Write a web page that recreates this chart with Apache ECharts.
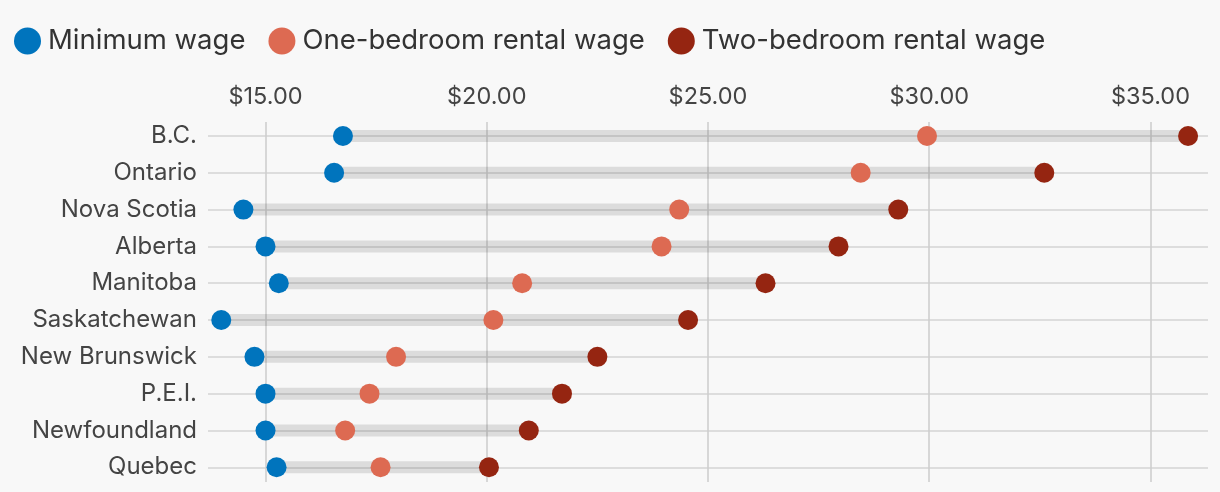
<!DOCTYPE html>
<html>
<head>
<meta charset="utf-8">
<script src="https://cdn.jsdelivr.net/npm/echarts@6/dist/echarts.min.js"></script>
<style>
  html, body { margin: 0; padding: 0; background: #f8f8f8; }
  #chart { width: 1220px; height: 492px; }
</style>
</head>
<body>
<div id="chart"></div>
<script>
// provinces, top to bottom
var provinces = ['B.C.', 'Ontario', 'Nova Scotia', 'Alberta', 'Manitoba', 'Saskatchewan', 'New Brunswick', 'P.E.I.', 'Newfoundland', 'Quebec'];
var minWage = [16.75, 16.55, 14.50, 15.00, 15.30, 14.00, 14.75, 15.00, 15.00, 15.25];
var oneBedWage = [29.95, 28.45, 24.35, 23.95, 20.80, 20.15, 17.95, 17.35, 16.80, 17.60];
var twoBedWage = [35.85, 32.60, 29.30, 27.95, 26.30, 24.55, 22.50, 21.70, 20.95, 20.05];
var xTicks = [15, 20, 25, 30, 35];

var font = 'Inter';
var rowIdx = [];
for (var i = 0; i < provinces.length; i++) {
  rowIdx.push(i);
}

function points(arr) {
  var out = [];
  for (var i = 0; i < arr.length; i++) {
    out.push([arr[i], i]);
  }
  return out;
}

// grey band from lowest to highest value of each row
var bandData = [];
for (var j = 0; j < provinces.length; j++) {
  var lo = Math.min(minWage[j], oneBedWage[j], twoBedWage[j]);
  var hi = Math.max(minWage[j], oneBedWage[j], twoBedWage[j]);
  bandData.push([lo, hi, j]);
}

var myChart = echarts.init(document.getElementById('chart'));
var option = {
  backgroundColor: '#f8f8f8',
  animation: false,
  textStyle: { fontFamily: font },
  legend: {
    left: 9,
    top: 22,
    itemWidth: 27,
    itemHeight: 27,
    itemGap: 23,
    icon: 'circle',
    data: ['Minimum wage', 'One-bedroom rental wage', 'Two-bedroom rental wage'],
    textStyle: { fontFamily: font, fontSize: 27.5, color: '#333', padding: [0, 0, 0, 2] }
  },
  grid: {
    left: 208,
    right: 12,
    top: 122,
    bottom: 10
  },
  xAxis: {
    type: 'value',
    position: 'top',
    min: 13.7,
    max: 36.3,
    axisLine: { show: false },
    axisTick: { show: false, customValues: xTicks },
    axisLabel: {
      customValues: xTicks,
      fontFamily: font,
      fontSize: 23.5,
      color: '#444',
      margin: 13,
      formatter: function (v) { return '$' + v.toFixed(2); }
    },
    splitLine: { show: true, lineStyle: { color: '#cccccc', width: 1.5 } }
  },
  yAxis: {
    type: 'value',
    inverse: true,
    min: -0.38,
    max: 9.4,
    axisLine: { show: false },
    axisTick: { show: false, customValues: rowIdx },
    axisLabel: {
      customValues: rowIdx,
      fontFamily: font,
      fontSize: 24,
      color: '#444',
      margin: 11,
      formatter: function (v) { return provinces[Math.round(v)]; }
    },
    splitLine: { show: true, lineStyle: { color: '#dddddd', width: 2 } }
  },
  series: [
    {
      type: 'custom',
      name: 'band',
      silent: true,
      data: bandData,
      encode: { x: [0, 1], y: 2 },
      renderItem: function (params, api) {
        var a = api.coord([api.value(0), api.value(2)]);
        var b = api.coord([api.value(1), api.value(2)]);
        return {
          type: 'rect',
          shape: { x: a[0], y: a[1] - 6, width: b[0] - a[0], height: 12 },
          style: { fill: 'rgba(0,0,0,0.11)' }
        };
      },
      z: 1
    },
    {
      name: 'Minimum wage',
      type: 'scatter',
      symbolSize: 20,
      itemStyle: { color: '#0074bd', opacity: 1 },
      data: points(minWage),
      z: 3
    },
    {
      name: 'One-bedroom rental wage',
      type: 'scatter',
      symbolSize: 20,
      itemStyle: { color: '#dd6a52', opacity: 1 },
      data: points(oneBedWage),
      z: 3
    },
    {
      name: 'Two-bedroom rental wage',
      type: 'scatter',
      symbolSize: 20,
      itemStyle: { color: '#952511', opacity: 1 },
      data: points(twoBedWage),
      z: 3
    }
  ]
};
option && myChart.setOption(option);
</script>
</body>
</html>
